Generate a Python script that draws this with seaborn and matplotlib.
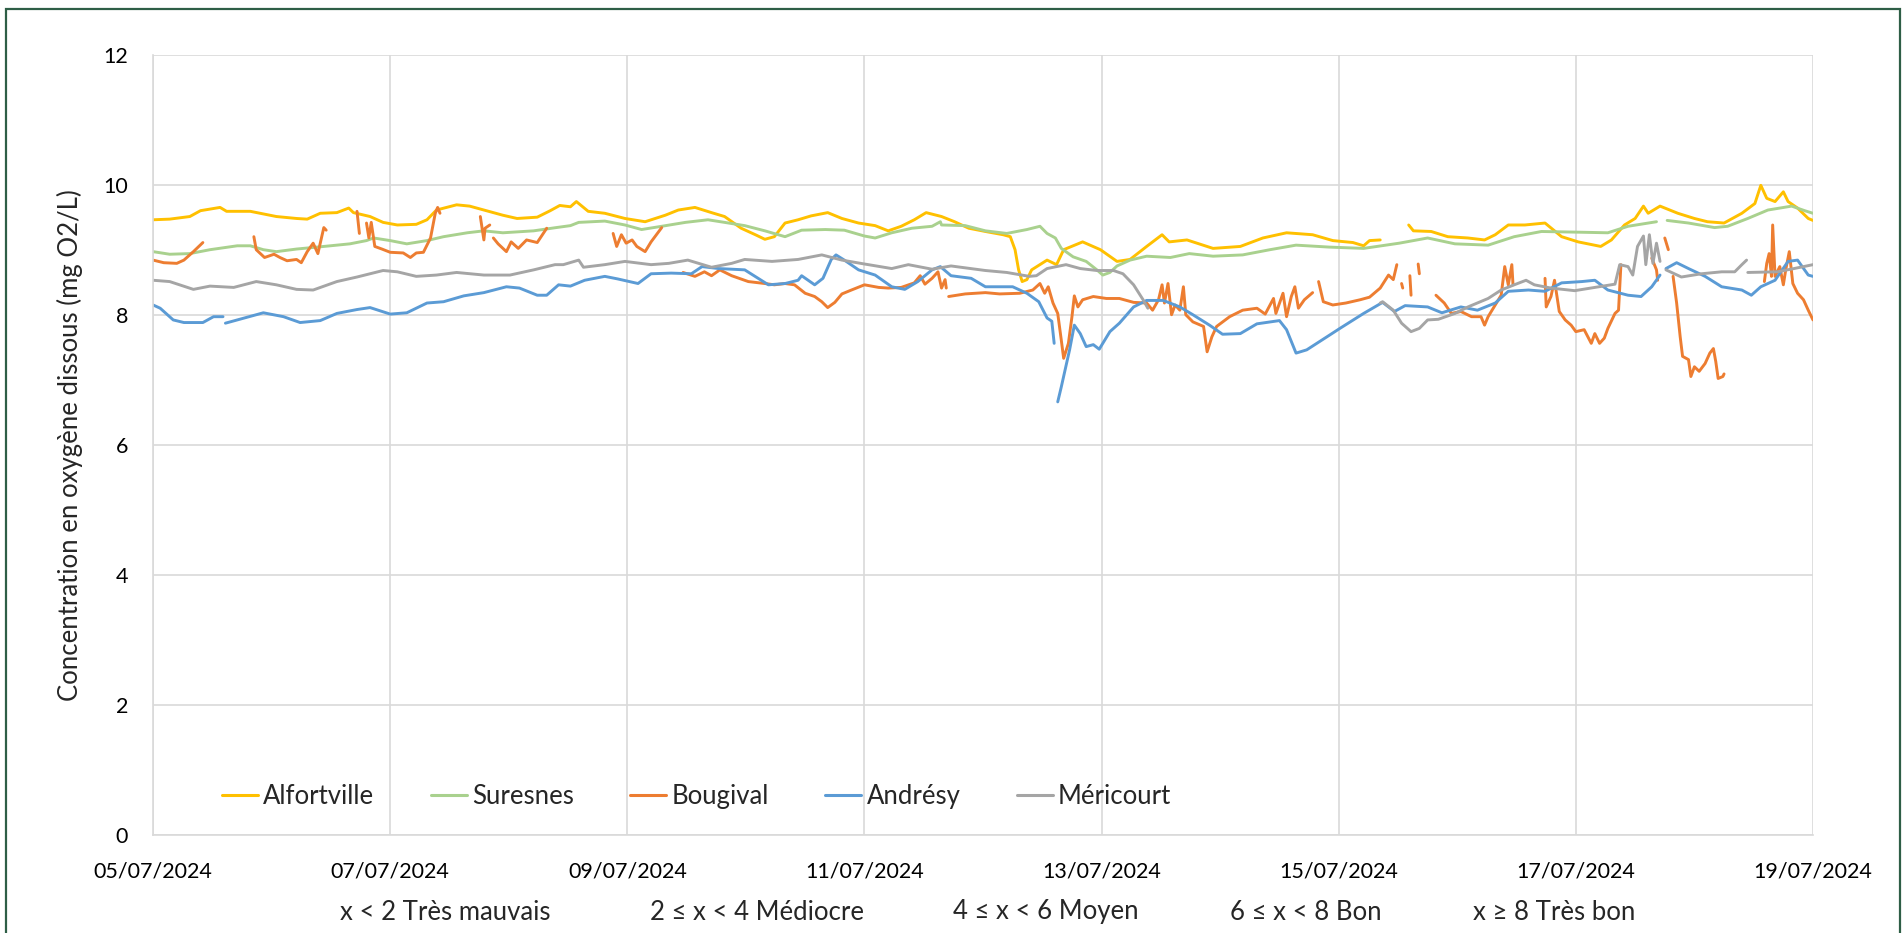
import numpy as np
import pandas as pd
import matplotlib
matplotlib.use('Agg')
import matplotlib.pyplot as plt
from matplotlib.lines import Line2D
from matplotlib.patches import Rectangle
import seaborn as sns

# ── Data: dissolved oxygen, 05/07/2024 → 19/07/2024 ─────────────────────────
# time = days since 05/07/2024 00:00, None = hole in the record
START = pd.Timestamp('2024-07-05')
STATIONS = ['Alfortville', 'Suresnes', 'Bougival', 'Andrésy', 'Méricourt']
COLORS = ['#FFC000', '#A9D18E', '#ED7D31', '#5B9BD5', '#A5A5A5']
CLASSES = ['x < 2 Très mauvais', '2 ≤ x < 4 Médiocre', '4 ≤ x < 6 Moyen',
           '6 ≤ x < 8 Bon', 'x ≥ 8 Très bon']
TICK_DATES = pd.date_range(START, periods=8, freq='2D')

ALF_T = [0, 0.14, 0.31, 0.40, 0.565, 0.62, 0.82, 1.04, 1.21, 1.30,
         1.41, 1.55, 1.65, 1.69, 1.83, 1.94, 2.06, 2.22, 2.31, 2.39,
         2.56, 2.67, 2.81, 2.95, 3.07, 3.24, 3.35, 3.43, 3.52, 3.57,
         3.67, 3.81, 3.98, 4.15, 4.32, 4.43, 4.57, 4.71, 4.82, 4.96,
         5.08, 5.16, 5.24, 5.33, 5.44, 5.55, 5.69, 5.81, 5.95, 6.09,
         6.20, 6.31, 6.42, 6.52, 6.65, 6.76, 6.88, 7.02, 7.17, 7.23,
         7.27, 7.30, 7.33, 7.37, 7.41, 7.54, 7.62, 7.68, 7.84, 7.99,
         8.13, 8.24, 8.38, 8.51, 8.57, 8.72, 8.94, 9.17, 9.36, 9.56,
         9.78, 9.95, 10.12, 10.21, 10.26, 10.35, None, 10.59, 10.63, 10.78,
         10.92, 11.09, 11.23, 11.32, 11.43, 11.57, 11.74, 11.88, 12.02, 12.21,
         12.30, 12.41, 12.50, 12.57, 12.61, 12.71, 12.86, 13.00, 13.11, 13.25,
         13.40, 13.51, 13.56, 13.61, 13.68, 13.75, 13.79, 13.87, 13.96, 14.0]
ALF_V = [9.46, 9.47, 9.51, 9.60, 9.65, 9.59, 9.59, 9.51, 9.48, 9.47,
         9.56, 9.57, 9.64, 9.57, 9.51, 9.42, 9.38, 9.39, 9.46, 9.61,
         9.69, 9.67, 9.60, 9.53, 9.48, 9.50, 9.60, 9.68, 9.66, 9.74,
         9.59, 9.56, 9.48, 9.43, 9.53, 9.61, 9.65, 9.57, 9.51, 9.33,
         9.23, 9.16, 9.20, 9.41, 9.46, 9.52, 9.57, 9.48, 9.41, 9.37,
         9.29, 9.36, 9.46, 9.57, 9.51, 9.43, 9.33, 9.28, 9.23, 9.20,
         9.00, 8.69, 8.51, 8.54, 8.69, 8.84, 8.77, 9.00, 9.12, 9.00,
         8.82, 8.85, 9.05, 9.23, 9.12, 9.15, 9.02, 9.05, 9.18, 9.26,
         9.23, 9.14, 9.11, 9.06, 9.14, 9.15, None, 9.38, 9.29, 9.28,
         9.20, 9.18, 9.15, 9.23, 9.38, 9.38, 9.41, 9.20, 9.12, 9.05,
         9.15, 9.38, 9.48, 9.67, 9.56, 9.67, 9.56, 9.48, 9.43, 9.41,
         9.56, 9.71, 9.99, 9.79, 9.74, 9.89, 9.74, 9.64, 9.48, 9.45]

SUR_T = [0, 0.14, 0.31, 0.48, 0.71, 0.82, 0.93, 1.04, 1.21, 1.44,
         1.66, 1.80, 1.86, 2.0, 2.14, 2.31, 2.45, 2.65, 2.79, 2.95,
         3.21, 3.40, 3.52, 3.59, 3.81, 3.98, 4.12, 4.29, 4.49, 4.68,
         4.82, 4.99, 5.16, 5.33, 5.47, 5.67, 5.83, 6.0, 6.09, 6.23,
         6.40, 6.57, 6.64, 6.65, 6.85, 7.02, 7.20, 7.37, 7.48, 7.54,
         7.61, 7.66, 7.76, 7.87, 7.96, 8.01, 8.07, 8.13, 8.24, 8.38,
         8.58, 8.74, 8.94, 9.19, 9.42, 9.64, 9.92, 10.21, 10.51, 10.75,
         10.98, 11.26, 11.48, 11.71, 12.0, 12.27, 12.44, 12.68, None, 12.77,
         12.95, 13.17, 13.28, 13.45, 13.62, 13.82, 13.93, 14.0]
SUR_V = [8.97, 8.93, 8.94, 9.00, 9.06, 9.06, 9.00, 8.97, 9.01, 9.05,
         9.09, 9.14, 9.18, 9.14, 9.09, 9.14, 9.20, 9.26, 9.29, 9.26,
         9.29, 9.34, 9.37, 9.42, 9.44, 9.38, 9.31, 9.36, 9.42, 9.46,
         9.42, 9.37, 9.29, 9.20, 9.30, 9.31, 9.30, 9.21, 9.18, 9.26,
         9.33, 9.36, 9.43, 9.38, 9.37, 9.29, 9.25, 9.31, 9.36, 9.25,
         9.18, 9.02, 8.89, 8.82, 8.69, 8.61, 8.65, 8.75, 8.84, 8.90,
         8.88, 8.94, 8.90, 8.92, 9.00, 9.07, 9.04, 9.02, 9.10, 9.18,
         9.09, 9.07, 9.20, 9.28, 9.27, 9.26, 9.36, 9.43, None, 9.45,
         9.41, 9.34, 9.36, 9.48, 9.61, 9.67, 9.60, 9.56]

BOU_T = [0, 0.09, 0.20, 0.26, 0.34, 0.42, None,
         0.85, 0.87, 0.94, 1.02, 1.07, 1.13, 1.21, 1.25, 1.30, 1.35, 1.39, 1.44, 1.46, None,
         1.72, 1.74, None,
         1.80, 1.82, 1.84, 1.87, 1.93, 2.0, 2.11, 2.17, 2.22, 2.28, 2.34, 2.38, 2.40, 2.42, None,
         2.76, 2.79, 2.80, 2.84, None,
         2.87, 2.91, 2.98, 3.02, 3.08, 3.15, 3.24, 3.32, None,
         3.88, 3.91, 3.95, 3.99, 4.04, 4.08, 4.15, 4.20, 4.29, None,
         4.47, 4.57, 4.65, 4.71, 4.78, 4.88, 5.02, 5.16, 5.24, 5.33,
         5.41, 5.50, 5.58, 5.64, 5.69, 5.75, 5.81, 5.89, 6.0, 6.12,
         6.20, 6.31, 6.42, 6.47, 6.51, 6.57, 6.62, 6.65, 6.68, 6.69, None,
         6.71, 6.85, 7.02, 7.14, 7.31, 7.42, 7.48, 7.52, 7.55, 7.59,
         7.63, 7.66, 7.68, 7.72, 7.75, 7.77, 7.80, 7.84, 7.93, 8.04,
         8.15, 8.27, 8.38, 8.43, 8.48, 8.51, 8.53, 8.56, 8.59, 8.62,
         8.66, 8.69, 8.71, 8.77, 8.86, 8.89, 8.93, 8.97, 9.08, 9.19,
         9.31, 9.38, 9.45, 9.47, 9.53, 9.56, 9.60, 9.63, 9.66, 9.71, 9.78, None,
         9.83, 9.87, 9.95, 10.06, 10.18, 10.26, 10.35, 10.42, 10.46, 10.49, None,
         10.53, 10.54, None,
         10.60, 10.61, None,
         10.67, 10.68, None,
         10.82, 10.89, 10.95, 11.03, 11.12, 11.20, 11.23, 11.26, 11.32, 11.37,
         11.40, 11.43, 11.46, 11.47, None,
         11.74, 11.75, 11.79, 11.82, 11.86, 11.91, 11.96, 12.0, 12.07, 12.13,
         12.16, 12.20, 12.24, 12.27, 12.33, 12.36, 12.38, None,
         12.64, 12.68, 12.69, None,
         12.75, 12.78, None,
         12.82, 12.85, 12.88, 12.90, 12.95, 12.97, 13.0, 13.04, 13.09, 13.13,
         13.16, 13.18, 13.20, 13.24, 13.25, None,
         13.59, 13.61, 13.63, 13.65, 13.66, 13.68, 13.72, 13.75, 13.77, 13.80,
         13.83, 13.87, 13.92, 13.96, 14.0]
BOU_V = [8.84, 8.80, 8.79, 8.84, 8.97, 9.11, None,
         9.20, 9.00, 8.88, 8.93, 8.88, 8.83, 8.85, 8.80, 8.97, 9.10, 8.94, 9.34, 9.30, None,
         9.59, 9.25, None,
         9.41, 9.18, 9.42, 9.05, 9.01, 8.96, 8.95, 8.88, 8.95, 8.96, 9.18, 9.56, 9.65, 9.56, None,
         9.51, 9.15, 9.33, 9.38, None,
         9.18, 9.09, 8.97, 9.12, 9.02, 9.15, 9.11, 9.33, None,
         9.25, 9.05, 9.23, 9.10, 9.15, 9.05, 8.97, 9.12, 9.34, None,
         8.65, 8.59, 8.66, 8.60, 8.69, 8.60, 8.51, 8.48, 8.46, 8.48,
         8.46, 8.33, 8.28, 8.20, 8.11, 8.19, 8.32, 8.38, 8.46, 8.42,
         8.41, 8.42, 8.49, 8.60, 8.47, 8.56, 8.66, 8.41, 8.54, 8.41, None,
         8.28, 8.32, 8.34, 8.32, 8.33, 8.38, 8.48, 8.33, 8.43, 8.18,
         8.02, 7.61, 7.33, 7.56, 7.97, 8.29, 8.12, 8.23, 8.28, 8.25,
         8.25, 8.19, 8.18, 8.07, 8.23, 8.46, 8.18, 8.48, 8.00, 8.15,
         8.07, 8.43, 8.00, 7.89, 7.82, 7.43, 7.66, 7.82, 7.97, 8.07,
         8.10, 8.01, 8.25, 8.02, 8.33, 7.97, 8.28, 8.43, 8.10, 8.23, 8.34, None,
         8.51, 8.20, 8.15, 8.18, 8.23, 8.27, 8.41, 8.61, 8.54, 8.77, None,
         8.48, 8.41, None,
         8.60, 8.30, None,
         8.78, 8.63, None,
         8.30, 8.18, 8.02, 8.05, 7.97, 7.97, 7.84, 7.97, 8.15, 8.30,
         8.74, 8.46, 8.77, 8.46, None,
         8.56, 8.12, 8.28, 8.53, 8.05, 7.92, 7.84, 7.74, 7.77, 7.56,
         7.71, 7.56, 7.64, 7.79, 8.02, 8.07, 8.77, None,
         8.87, 8.69, 8.53, None,
         9.18, 9.00, None,
         8.59, 8.18, 7.66, 7.36, 7.31, 7.05, 7.20, 7.13, 7.25, 7.41,
         7.48, 7.28, 7.02, 7.05, 7.09, None,
         8.51, 8.79, 8.94, 8.59, 9.38, 8.59, 8.74, 8.46, 8.69, 8.97,
         8.48, 8.33, 8.23, 8.07, 7.92]

AND_T = [0, 0.06, 0.17, 0.26, 0.42, 0.51, 0.59, None, 0.61, 0.73,
         0.93, 1.10, 1.24, 1.41, 1.55, 1.72, 1.83, 2.0, 2.14, 2.31,
         2.45, 2.62, 2.79, 2.98, 3.09, 3.24, 3.32, 3.42, 3.52, 3.64,
         3.81, 3.92, 4.09, 4.20, 4.37, 4.54, 4.63, 4.77, 4.99, 5.19,
         5.33, 5.44, 5.47, 5.58, 5.65, 5.72, 5.76, 5.83, 5.95, 6.09,
         6.23, 6.34, 6.45, 6.57, 6.64, 6.73, 6.90, 7.02, 7.11, 7.25,
         7.37, 7.47, 7.54, 7.58, 7.60, None, 7.63, 7.66, 7.73, 7.77,
         7.82, 7.87, 7.93, 7.98, 8.07, 8.15, 8.27, 8.38, 8.52, 8.66,
         8.77, 8.91, 9.02, 9.17, 9.31, 9.50, 9.56, 9.64, 9.73, 9.90,
         10.01, 10.21, 10.37, 10.47, 10.56, 10.75, 10.87, 11.03, 11.17, 11.32,
         11.43, 11.60, 11.74, 11.88, 12.05, 12.16, 12.27, 12.44, 12.55, 12.64,
         12.71, None, 12.76, 12.85, 12.95, 13.09, 13.23, 13.40, 13.48, 13.56,
         13.68, 13.79, 13.87, 13.96, 14.0]
AND_V = [8.15, 8.10, 7.92, 7.88, 7.88, 7.97, 7.97, None, 7.87, 7.93,
         8.03, 7.97, 7.88, 7.91, 8.02, 8.08, 8.11, 8.01, 8.03, 8.18,
         8.20, 8.29, 8.34, 8.43, 8.41, 8.30, 8.30, 8.46, 8.44, 8.53,
         8.59, 8.55, 8.48, 8.63, 8.64, 8.63, 8.74, 8.71, 8.69, 8.46,
         8.48, 8.53, 8.60, 8.46, 8.56, 8.85, 8.92, 8.84, 8.69, 8.61,
         8.43, 8.39, 8.51, 8.69, 8.74, 8.60, 8.56, 8.43, 8.43, 8.43,
         8.33, 8.20, 7.95, 7.90, 7.56, None, 6.66, 6.89, 7.46, 7.84,
         7.71, 7.51, 7.54, 7.47, 7.74, 7.87, 8.12, 8.22, 8.22, 8.12,
         8.00, 7.84, 7.70, 7.71, 7.86, 7.91, 7.77, 7.41, 7.46, 7.66,
         7.79, 8.02, 8.19, 8.05, 8.14, 8.12, 8.03, 8.12, 8.07, 8.18,
         8.36, 8.38, 8.36, 8.49, 8.51, 8.53, 8.38, 8.30, 8.28, 8.43,
         8.61, None, 8.71, 8.80, 8.71, 8.59, 8.43, 8.38, 8.30, 8.43,
         8.53, 8.82, 8.84, 8.61, 8.59]

MER_T = [0, 0.14, 0.34, 0.48, 0.68, 0.87, 1.04, 1.21, 1.35, 1.55,
         1.72, 1.94, 2.06, 2.22, 2.39, 2.56, 2.79, 3.01, 3.21, 3.39,
         3.46, 3.59, 3.63, 3.81, 3.98, 4.20, 4.35, 4.51, 4.71, 4.88,
         4.99, 5.22, 5.44, 5.64, 5.81, 6.0, 6.23, 6.37, 6.57, 6.73,
         7.02, 7.20, 7.39, 7.45, 7.54, 7.70, 7.82, 7.96, 8.10, 8.18,
         8.27, 8.35, 8.39, None, 10.35, 10.37, 10.46, 10.53, 10.61, 10.68,
         10.75, 10.84, 10.98, 11.09, 11.26, 11.37, 11.48, 11.58, 11.65, 11.79,
         11.99, 12.16, 12.33, 12.37, 12.44, 12.48, 12.52, 12.57, 12.59, 12.62,
         12.65, 12.68, 12.71, None, 12.76, 12.89, 13.06, 13.23, 13.34, 13.40,
         13.44, None, 13.45, 13.70, 13.84, 14.0]
MER_V = [8.53, 8.51, 8.39, 8.44, 8.42, 8.51, 8.46, 8.39, 8.38, 8.51,
         8.58, 8.68, 8.66, 8.59, 8.61, 8.65, 8.61, 8.61, 8.69, 8.77,
         8.77, 8.84, 8.73, 8.77, 8.82, 8.77, 8.79, 8.84, 8.73, 8.79,
         8.85, 8.82, 8.85, 8.92, 8.84, 8.78, 8.71, 8.77, 8.70, 8.75,
         8.68, 8.65, 8.59, 8.60, 8.71, 8.77, 8.71, 8.68, 8.68, 8.63,
         8.46, 8.23, 8.10, None, 8.18, 8.20, 8.07, 7.87, 7.74, 7.79,
         7.92, 7.93, 8.02, 8.12, 8.25, 8.38, 8.46, 8.53, 8.46, 8.41,
         8.37, 8.42, 8.47, 8.77, 8.74, 8.61, 9.05, 9.21, 8.77, 9.23,
         8.79, 9.10, 8.82, None, 8.69, 8.58, 8.63, 8.66, 8.66, 8.77,
         8.84, None, 8.65, 8.66, 8.71, 8.77]


def station_frame(name, days, values):
    days = np.array([np.nan if d is None else d for d in days], dtype=float)
    values = np.array([np.nan if v is None else v for v in values], dtype=float)
    seg = np.cumsum(np.isnan(values))          # new piece after every hole
    d = pd.DataFrame({'time': START + pd.to_timedelta(days, unit='D'),
                      'value': values, 'piece': seg, 'station': name})
    return d.dropna()


df = pd.concat([station_frame('Alfortville', ALF_T, ALF_V),
                station_frame('Suresnes', SUR_T, SUR_V),
                station_frame('Bougival', BOU_T, BOU_V),
                station_frame('Andrésy', AND_T, AND_V),
                station_frame('Méricourt', MER_T, MER_V)], ignore_index=True)

# ── Style ─────────────────────────────────────────────────────────────────────
sns.set_theme(style='white')
plt.rcParams['font.family'] = ['Lato', 'DejaVu Sans']
GRID = '#D9D9D9'
FS_TICK = 15.5
FS = 18.5

fig = plt.figure(figsize=(19.04, 9.33), dpi=100)
ax = fig.add_axes([0.0804, 0.105, 0.8718, 0.8365])

sns.lineplot(data=df, x='time', y='value', hue='station', units='piece',
             estimator=None, hue_order=STATIONS, palette=COLORS,
             linewidth=2.1, legend=False, ax=ax)

ax.set_xlim(START, START + pd.Timedelta(days=14))
ax.set_ylim(0, 12)
ax.set_yticks(range(0, 13, 2))
ax.set_xticks(TICK_DATES)
ax.set_xticklabels([d.strftime('%d/%m/%Y') for d in TICK_DATES])
ax.tick_params(axis='both', length=0, labelsize=FS_TICK, colors='black')
ax.tick_params(axis='x', pad=19)
ax.tick_params(axis='y', pad=18)
ax.grid(True, color=GRID, linewidth=1.2)
ax.set_axisbelow(True)
for side in ['top', 'right']:
    ax.spines[side].set_visible(False)
for side in ['left', 'bottom']:
    ax.spines[side].set_color(GRID)
    ax.spines[side].set_linewidth(1.2)

ax.set_xlabel('')
ax.set_ylabel('Concentration en oxygène dissous (mg O2/L)', fontsize=FS)
ax.yaxis.set_label_coords(-0.042, 0.5)

handles = [Line2D([], [], color=c, linewidth=2.2) for c in COLORS]
ax.legend(handles, STATIONS, ncol=5, loc='center left',
          bbox_to_anchor=(0.0416, 0.05), frameon=False, fontsize=FS,
          handlelength=1.4, handletextpad=0.2, columnspacing=2.2,
          borderaxespad=0, borderpad=0)

# quality classes under the axis
for x_px, txt in zip([340, 650, 953, 1230, 1473], CLASSES):
    fig.text(x_px / 1904, 1 - 912 / 933, txt, fontsize=FS, ha='left', va='center')

# frame of the chart area
fig.patches.append(Rectangle((0.003, -0.1), 0.995, 1.09, transform=fig.transFigure,
                             fill=False, edgecolor='#2E5E46', linewidth=1.6))

fig.savefig('out.png', dpi=100, facecolor='white')
